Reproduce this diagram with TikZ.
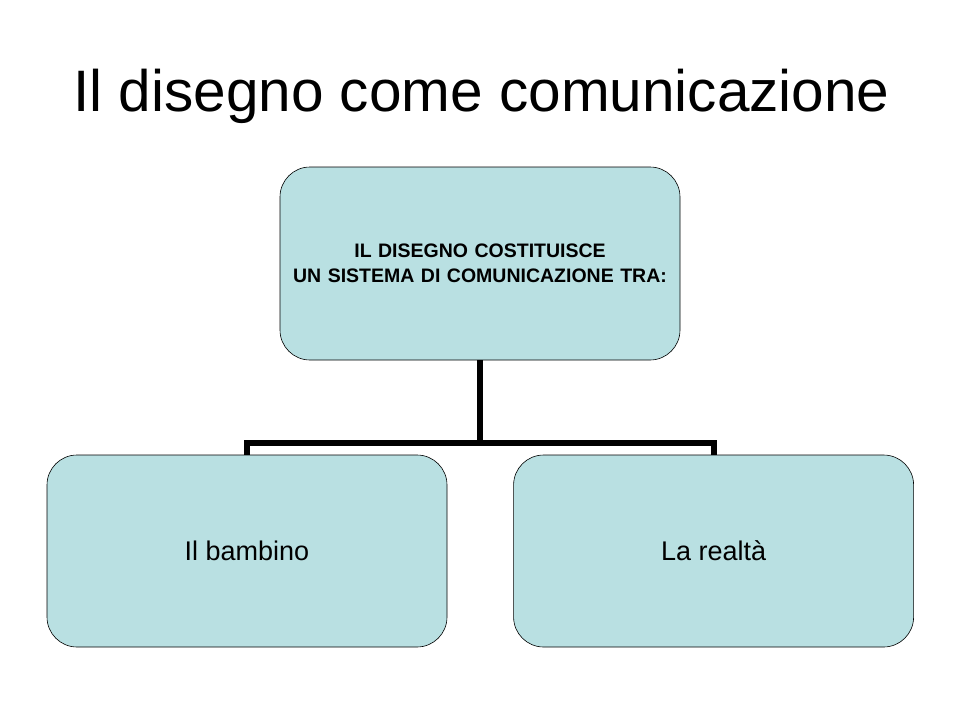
\documentclass[tikz,border=0pt]{standalone}
\usepackage{fontspec}
\setmainfont{Liberation Sans}
\usetikzlibrary{positioning}

\definecolor{boxfill}{RGB}{185,224,226}

\begin{document}
\begin{tikzpicture}[x=1pt,y=-1pt,
    title/.style ={anchor=base, inner sep=0pt, font=\fontsize{58.5}{70}\selectfont},
    block_top/.style ={rectangle, rounded corners=30pt, draw=black, semithick, fill=boxfill,
      minimum width=400pt, minimum height=193pt, text width=390pt, align=center,
      font=\bfseries\fontsize{19.5}{25}\selectfont},
    block_child/.style ={rectangle, rounded corners=30pt, draw=black, semithick, fill=boxfill,
      minimum width=400pt, minimum height=192pt, align=center,
      font=\fontsize{27}{32}\selectfont},
    line/.style ={draw, line width=6pt, line join=miter}]
    % page and title
    \useasboundingbox (0,0) rectangle (960,720);
    \fill[white] (0,0) rectangle (960,720);
    \node [title] (heading) at (481.5,111) {Il disegno come comunicazione};
    % the three boxes
    \node [block_top] (system) at (480,263.5) {
      IL DISEGNO COSTITUISCE\\
      UN SISTEMA DI COMUNICAZIONE TRA:};
    \node [block_child] (child) at (247,551) {Il bambino};
    \node [block_child, right=66pt of child] (reality) {La realtà};
    % connecting nodes with paths
    \coordinate (bus) at (480,443);
    \begin{scope}[every path/.style=line]
      \path (system) -- (bus);
      \path (bus) -| (child);
      \path (bus) -| (reality);
    \end{scope}
  \end{tikzpicture}
\end{document}
